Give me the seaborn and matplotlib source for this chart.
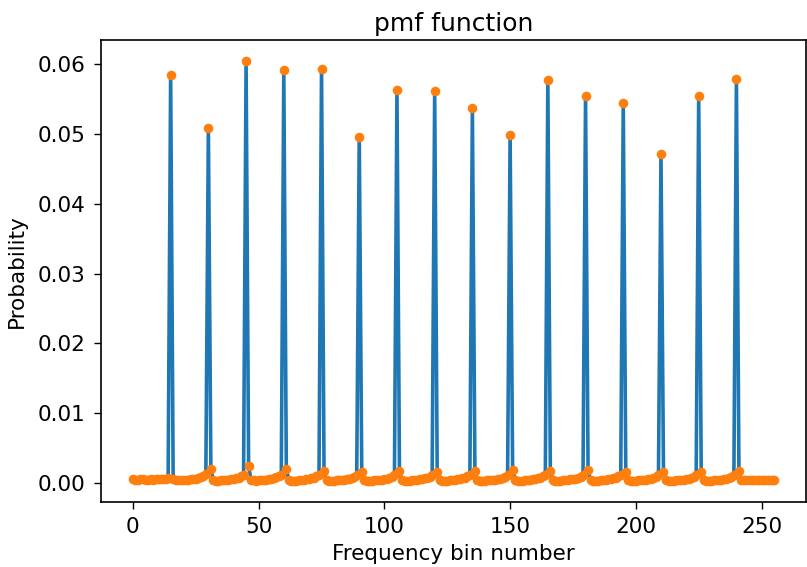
import numpy as np
import pandas as pd
import matplotlib
matplotlib.use("Agg")
import matplotlib.pyplot as plt
import seaborn as sns

# Peak bins and their probabilities
peak_bins = [15, 30, 45, 60, 75, 90, 105, 120, 135, 150, 165, 180, 195, 210, 225, 240]
peak_vals = [0.0584, 0.0509, 0.0604, 0.0591, 0.0593, 0.0496, 0.0563, 0.0561,
             0.0537, 0.0499, 0.0577, 0.0554, 0.0544, 0.0471, 0.0554, 0.0579]

# Background values between peaks (segment k = bins before peak k; last = bins after last peak)
seg_00 = [0.00052, 0.00050, 0.00049, 0.00055, 0.00051, 0.00048, 0.00050, 0.00053,
          0.00049, 0.00052, 0.00056, 0.00054, 0.00058, 0.00062, 0.00070]
seg_01 = [0.00058, 0.00050, 0.00046, 0.00044, 0.00045, 0.00047, 0.00049, 0.00052,
          0.00055, 0.00060, 0.00068, 0.00080, 0.00098, 0.00125]
seg_02 = [0.00195, 0.00040, 0.00036, 0.00035, 0.00037, 0.00039, 0.00042, 0.00046,
          0.00051, 0.00058, 0.00066, 0.00078, 0.00094, 0.00118]
seg_03 = [0.00240, 0.00042, 0.00037, 0.00036, 0.00038, 0.00041, 0.00044, 0.00048,
          0.00053, 0.00060, 0.00069, 0.00080, 0.00096, 0.00121]
seg_04 = [0.00205, 0.00041, 0.00035, 0.00034, 0.00036, 0.00040, 0.00043, 0.00047,
          0.00052, 0.00059, 0.00067, 0.00079, 0.00095, 0.00117]
seg_05 = [0.00172, 0.00039, 0.00034, 0.00033, 0.00035, 0.00038, 0.00041, 0.00045,
          0.00050, 0.00057, 0.00065, 0.00076, 0.00091, 0.00112]
seg_06 = [0.00162, 0.00037, 0.00033, 0.00032, 0.00034, 0.00037, 0.00040, 0.00044,
          0.00049, 0.00055, 0.00063, 0.00074, 0.00089, 0.00110]
seg_07 = [0.00168, 0.00038, 0.00034, 0.00033, 0.00035, 0.00038, 0.00042, 0.00046,
          0.00051, 0.00057, 0.00066, 0.00077, 0.00093, 0.00114]
seg_08 = [0.00165, 0.00039, 0.00034, 0.00033, 0.00035, 0.00039, 0.00042, 0.00046,
          0.00051, 0.00058, 0.00066, 0.00078, 0.00094, 0.00116]
seg_09 = [0.00172, 0.00038, 0.00034, 0.00032, 0.00034, 0.00037, 0.00041, 0.00045,
          0.00050, 0.00056, 0.00064, 0.00075, 0.00090, 0.00111]
seg_10 = [0.00190, 0.00040, 0.00035, 0.00034, 0.00036, 0.00039, 0.00043, 0.00047,
          0.00052, 0.00059, 0.00068, 0.00079, 0.00095, 0.00118]
seg_11 = [0.00170, 0.00039, 0.00035, 0.00033, 0.00035, 0.00038, 0.00042, 0.00046,
          0.00051, 0.00057, 0.00065, 0.00077, 0.00092, 0.00113]
seg_12 = [0.00182, 0.00040, 0.00035, 0.00034, 0.00036, 0.00039, 0.00042, 0.00046,
          0.00052, 0.00058, 0.00067, 0.00078, 0.00094, 0.00116]
seg_13 = [0.00165, 0.00038, 0.00034, 0.00033, 0.00034, 0.00037, 0.00041, 0.00045,
          0.00050, 0.00056, 0.00064, 0.00076, 0.00091, 0.00112]
seg_14 = [0.00152, 0.00037, 0.00033, 0.00032, 0.00034, 0.00037, 0.00040, 0.00044,
          0.00049, 0.00055, 0.00063, 0.00074, 0.00089, 0.00109]
seg_15 = [0.00158, 0.00038, 0.00034, 0.00033, 0.00035, 0.00038, 0.00041, 0.00045,
          0.00050, 0.00057, 0.00065, 0.00076, 0.00092, 0.00113]
seg_16 = [0.00168, 0.00042, 0.00040, 0.00039, 0.00041, 0.00040, 0.00042, 0.00041,
          0.00040, 0.00042, 0.00041, 0.00040, 0.00041, 0.00042, 0.00040]

segments = [seg_00, seg_01, seg_02, seg_03, seg_04, seg_05, seg_06, seg_07, seg_08,
            seg_09, seg_10, seg_11, seg_12, seg_13, seg_14, seg_15, seg_16]

pmf = []
for i, seg in enumerate(segments):
    pmf.extend(seg)
    if i < len(peak_vals):
        pmf.append(peak_vals[i])
bins = list(range(len(pmf)))
df = pd.DataFrame({"bin": bins, "prob": pmf})

fig = plt.figure(figsize=(8.07, 5.67), dpi=100)
ax = fig.add_axes([0.125, 0.115, 0.874, 0.814])

sns.lineplot(data=df, x="bin", y="prob", ax=ax, color="#1f77b4", linewidth=2.6)
sns.scatterplot(data=df, x="bin", y="prob", ax=ax, color="#ff7f0e", s=48,
                linewidth=0, zorder=3)

ax.set_xticks([0, 50, 100, 150, 200, 250])
ax.set_yticks([0.0, 0.01, 0.02, 0.03, 0.04, 0.05, 0.06])
ax.set_yticklabels(["0.00", "0.01", "0.02", "0.03", "0.04", "0.05", "0.06"])
ax.tick_params(labelsize=15.5, length=5, width=1, pad=6)
ax.set_xlabel("Frequency bin number", fontsize=15.5, labelpad=5)
ax.set_ylabel("Probability", fontsize=15.5, labelpad=8)
ax.set_title("pmf function", fontsize=18, pad=7)
for sp in ax.spines.values():
    sp.set_linewidth(1.2)

fig.savefig("out.png", dpi=100)
